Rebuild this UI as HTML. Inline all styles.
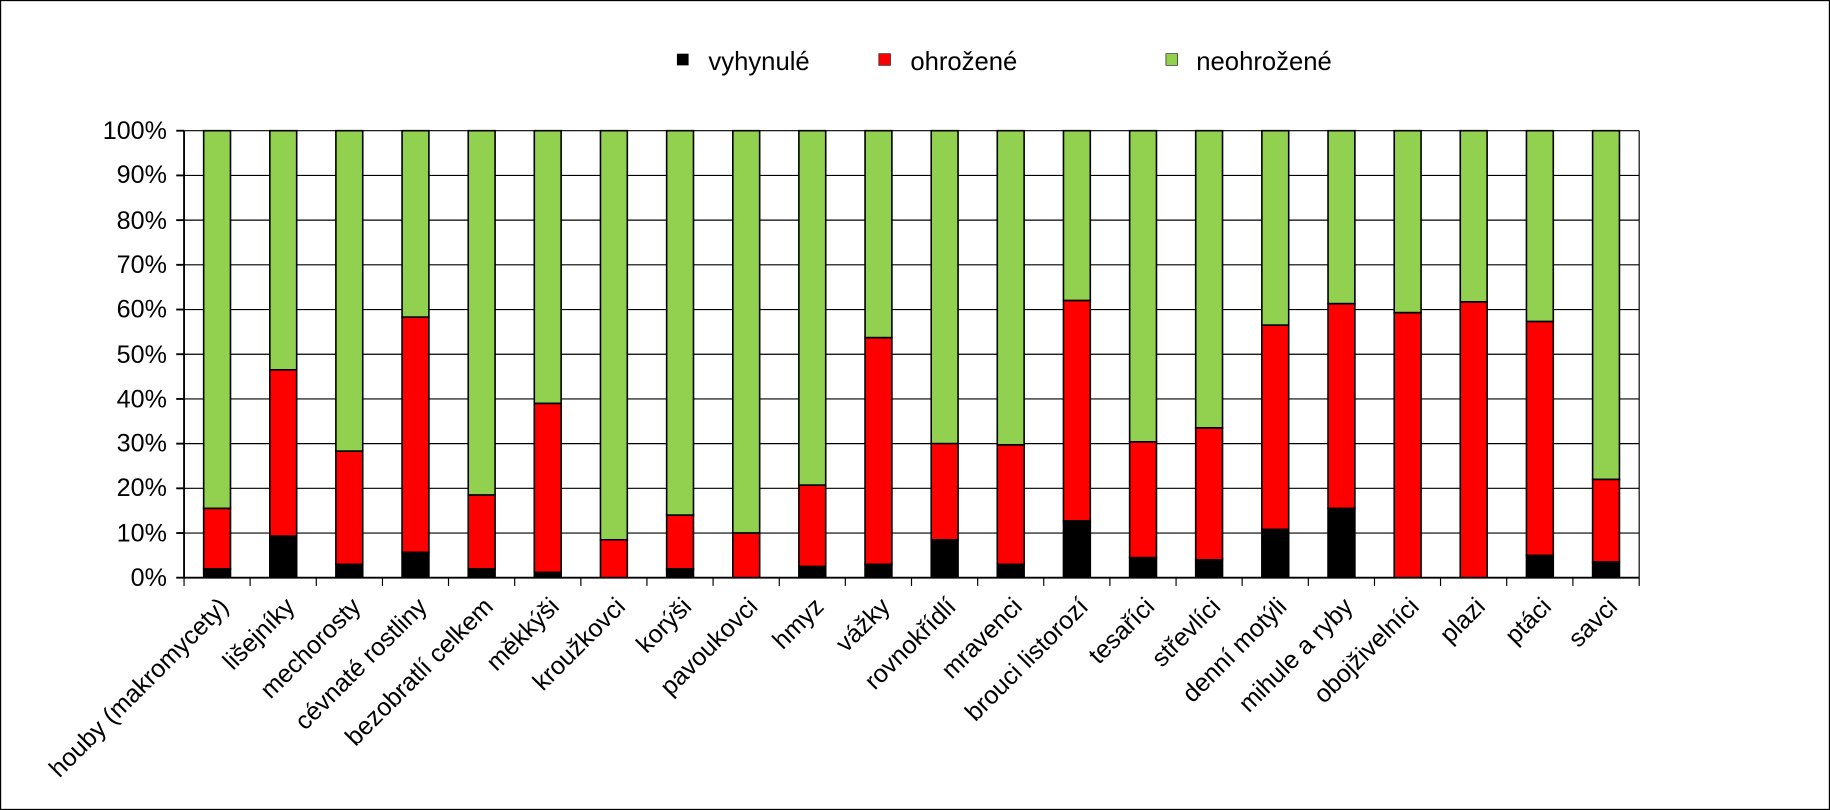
<!DOCTYPE html>
<html><head><meta charset="utf-8"><style>html,body{margin:0;padding:0;background:#fff}svg{display:block}text{font-family:"Liberation Sans",Arial,sans-serif;fill:#000}</style></head>
<body>
<svg width="1830" height="810" viewBox="0 0 1568 694" preserveAspectRatio="none" xmlns="http://www.w3.org/2000/svg">
<rect x="0.5" y="0.5" width="1567" height="693" fill="#fff" stroke="#000" stroke-width="1"/>
<rect x="580" y="46" width="10" height="10" fill="#000"/><text x="607" y="60" font-size="22">vyhynulé</text>
<rect x="753" y="46" width="10" height="10" fill="#f00" stroke="#000" stroke-width="0.5"/><text x="780" y="60" font-size="22">ohrožené</text>
<rect x="999" y="46" width="10" height="10" fill="#92d050" stroke="#000" stroke-width="0.5"/><text x="1025" y="60" font-size="22">neohrožené</text>
<g stroke="#000" stroke-width="1">
<line x1="157.7" x2="1404.5" y1="112" y2="112"/>
<line x1="157.7" x2="1404.5" y1="150.3" y2="150.3"/>
<line x1="157.7" x2="1404.5" y1="188.6" y2="188.6"/>
<line x1="157.7" x2="1404.5" y1="226.9" y2="226.9"/>
<line x1="157.7" x2="1404.5" y1="265.2" y2="265.2"/>
<line x1="157.7" x2="1404.5" y1="303.5" y2="303.5"/>
<line x1="157.7" x2="1404.5" y1="341.8" y2="341.8"/>
<line x1="157.7" x2="1404.5" y1="380.1" y2="380.1"/>
<line x1="157.7" x2="1404.5" y1="418.4" y2="418.4"/>
<line x1="157.7" x2="1404.5" y1="456.7" y2="456.7"/>
<line x1="1404.5" x2="1404.5" y1="112" y2="495"/>
</g>
<g font-size="21.5" text-anchor="end">
<text x="143" y="119">100%</text><text x="143" y="157">90%</text><text x="143" y="196">80%</text><text x="143" y="234">70%</text><text x="143" y="272">60%</text><text x="143" y="311">50%</text><text x="143" y="349">40%</text><text x="143" y="387">30%</text><text x="143" y="425">20%</text><text x="143" y="464">10%</text><text x="143" y="502">0%</text>
</g>
<g transform="translate(0,495) scale(1,-3.83)" stroke="#000" stroke-width="1.6">
<rect x="174.5" y="15.5" width="23" height="84.5" fill="#92d050" vector-effect="non-scaling-stroke"/><rect x="174.5" y="2" width="23" height="13.5" fill="#f00" vector-effect="non-scaling-stroke"/><rect x="174.5" y="0" width="23" height="2" fill="#000" vector-effect="non-scaling-stroke"/>
<rect x="231.2" y="46.5" width="23" height="53.5" fill="#92d050" vector-effect="non-scaling-stroke"/><rect x="231.2" y="9.3" width="23" height="37.2" fill="#f00" vector-effect="non-scaling-stroke"/><rect x="231.2" y="0" width="23" height="9.3" fill="#000" vector-effect="non-scaling-stroke"/>
<rect x="287.8" y="28.3" width="23" height="71.7" fill="#92d050" vector-effect="non-scaling-stroke"/><rect x="287.8" y="3" width="23" height="25.3" fill="#f00" vector-effect="non-scaling-stroke"/><rect x="287.8" y="0" width="23" height="3" fill="#000" vector-effect="non-scaling-stroke"/>
<rect x="344.5" y="58.3" width="23" height="41.7" fill="#92d050" vector-effect="non-scaling-stroke"/><rect x="344.5" y="5.7" width="23" height="52.6" fill="#f00" vector-effect="non-scaling-stroke"/><rect x="344.5" y="0" width="23" height="5.7" fill="#000" vector-effect="non-scaling-stroke"/>
<rect x="401.2" y="18.5" width="23" height="81.5" fill="#92d050" vector-effect="non-scaling-stroke"/><rect x="401.2" y="2" width="23" height="16.5" fill="#f00" vector-effect="non-scaling-stroke"/><rect x="401.2" y="0" width="23" height="2" fill="#000" vector-effect="non-scaling-stroke"/>
<rect x="457.8" y="39" width="23" height="61" fill="#92d050" vector-effect="non-scaling-stroke"/><rect x="457.8" y="1.2" width="23" height="37.8" fill="#f00" vector-effect="non-scaling-stroke"/><rect x="457.8" y="0" width="23" height="1.2" fill="#000" vector-effect="non-scaling-stroke"/>
<rect x="514.5" y="8.5" width="23" height="91.5" fill="#92d050" vector-effect="non-scaling-stroke"/><rect x="514.5" y="0" width="23" height="8.5" fill="#f00" vector-effect="non-scaling-stroke"/>
<rect x="571.2" y="14" width="23" height="86" fill="#92d050" vector-effect="non-scaling-stroke"/><rect x="571.2" y="2" width="23" height="12" fill="#f00" vector-effect="non-scaling-stroke"/><rect x="571.2" y="0" width="23" height="2" fill="#000" vector-effect="non-scaling-stroke"/>
<rect x="627.9" y="10" width="23" height="90" fill="#92d050" vector-effect="non-scaling-stroke"/><rect x="627.9" y="0" width="23" height="10" fill="#f00" vector-effect="non-scaling-stroke"/>
<rect x="684.5" y="20.7" width="23" height="79.3" fill="#92d050" vector-effect="non-scaling-stroke"/><rect x="684.5" y="2.5" width="23" height="18.2" fill="#f00" vector-effect="non-scaling-stroke"/><rect x="684.5" y="0" width="23" height="2.5" fill="#000" vector-effect="non-scaling-stroke"/>
<rect x="741.2" y="53.7" width="23" height="46.3" fill="#92d050" vector-effect="non-scaling-stroke"/><rect x="741.2" y="3" width="23" height="50.7" fill="#f00" vector-effect="non-scaling-stroke"/><rect x="741.2" y="0" width="23" height="3" fill="#000" vector-effect="non-scaling-stroke"/>
<rect x="797.9" y="30" width="23" height="70" fill="#92d050" vector-effect="non-scaling-stroke"/><rect x="797.9" y="8.5" width="23" height="21.5" fill="#f00" vector-effect="non-scaling-stroke"/><rect x="797.9" y="0" width="23" height="8.5" fill="#000" vector-effect="non-scaling-stroke"/>
<rect x="854.5" y="29.7" width="23" height="70.3" fill="#92d050" vector-effect="non-scaling-stroke"/><rect x="854.5" y="3" width="23" height="26.7" fill="#f00" vector-effect="non-scaling-stroke"/><rect x="854.5" y="0" width="23" height="3" fill="#000" vector-effect="non-scaling-stroke"/>
<rect x="911.2" y="62" width="23" height="38" fill="#92d050" vector-effect="non-scaling-stroke"/><rect x="911.2" y="12.7" width="23" height="49.3" fill="#f00" vector-effect="non-scaling-stroke"/><rect x="911.2" y="0" width="23" height="12.7" fill="#000" vector-effect="non-scaling-stroke"/>
<rect x="967.9" y="30.4" width="23" height="69.6" fill="#92d050" vector-effect="non-scaling-stroke"/><rect x="967.9" y="4.5" width="23" height="25.9" fill="#f00" vector-effect="non-scaling-stroke"/><rect x="967.9" y="0" width="23" height="4.5" fill="#000" vector-effect="non-scaling-stroke"/>
<rect x="1024.5" y="33.5" width="23" height="66.5" fill="#92d050" vector-effect="non-scaling-stroke"/><rect x="1024.5" y="4" width="23" height="29.5" fill="#f00" vector-effect="non-scaling-stroke"/><rect x="1024.5" y="0" width="23" height="4" fill="#000" vector-effect="non-scaling-stroke"/>
<rect x="1081.2" y="56.5" width="23" height="43.5" fill="#92d050" vector-effect="non-scaling-stroke"/><rect x="1081.2" y="10.8" width="23" height="45.7" fill="#f00" vector-effect="non-scaling-stroke"/><rect x="1081.2" y="0" width="23" height="10.8" fill="#000" vector-effect="non-scaling-stroke"/>
<rect x="1137.9" y="61.3" width="23" height="38.7" fill="#92d050" vector-effect="non-scaling-stroke"/><rect x="1137.9" y="15.5" width="23" height="45.8" fill="#f00" vector-effect="non-scaling-stroke"/><rect x="1137.9" y="0" width="23" height="15.5" fill="#000" vector-effect="non-scaling-stroke"/>
<rect x="1194.6" y="59.3" width="23" height="40.7" fill="#92d050" vector-effect="non-scaling-stroke"/><rect x="1194.6" y="0" width="23" height="59.3" fill="#f00" vector-effect="non-scaling-stroke"/>
<rect x="1251.2" y="61.7" width="23" height="38.3" fill="#92d050" vector-effect="non-scaling-stroke"/><rect x="1251.2" y="0" width="23" height="61.7" fill="#f00" vector-effect="non-scaling-stroke"/>
<rect x="1307.9" y="57.3" width="23" height="42.7" fill="#92d050" vector-effect="non-scaling-stroke"/><rect x="1307.9" y="5" width="23" height="52.3" fill="#f00" vector-effect="non-scaling-stroke"/><rect x="1307.9" y="0" width="23" height="5" fill="#000" vector-effect="non-scaling-stroke"/>
<rect x="1364.6" y="22" width="23" height="78" fill="#92d050" vector-effect="non-scaling-stroke"/><rect x="1364.6" y="3.5" width="23" height="18.5" fill="#f00" vector-effect="non-scaling-stroke"/><rect x="1364.6" y="0" width="23" height="3.5" fill="#000" vector-effect="non-scaling-stroke"/>
</g>
<g stroke="#000" stroke-width="1.6">
<line x1="157.7" x2="157.7" y1="112" y2="495"/>
<line x1="151" x2="1404.5" y1="495" y2="495"/>
<line x1="151" x2="157.7" y1="112" y2="112"/><line x1="151" x2="157.7" y1="150.3" y2="150.3"/><line x1="151" x2="157.7" y1="188.6" y2="188.6"/><line x1="151" x2="157.7" y1="226.9" y2="226.9"/><line x1="151" x2="157.7" y1="265.2" y2="265.2"/><line x1="151" x2="157.7" y1="303.5" y2="303.5"/><line x1="151" x2="157.7" y1="341.8" y2="341.8"/><line x1="151" x2="157.7" y1="380.1" y2="380.1"/><line x1="151" x2="157.7" y1="418.4" y2="418.4"/><line x1="151" x2="157.7" y1="456.7" y2="456.7"/>
</g>
<g stroke="#000" stroke-width="1">
<line x1="157.7" x2="157.7" y1="495" y2="502"/><line x1="214.3" x2="214.3" y1="495" y2="502"/><line x1="271" x2="271" y1="495" y2="502"/><line x1="327.7" x2="327.7" y1="495" y2="502"/><line x1="384.3" x2="384.3" y1="495" y2="502"/><line x1="441" x2="441" y1="495" y2="502"/><line x1="497.7" x2="497.7" y1="495" y2="502"/><line x1="554.3" x2="554.3" y1="495" y2="502"/><line x1="611" x2="611" y1="495" y2="502"/><line x1="667.7" x2="667.7" y1="495" y2="502"/><line x1="724.3" x2="724.3" y1="495" y2="502"/><line x1="781" x2="781" y1="495" y2="502"/><line x1="837.7" x2="837.7" y1="495" y2="502"/><line x1="894.3" x2="894.3" y1="495" y2="502"/><line x1="951" x2="951" y1="495" y2="502"/><line x1="1007.7" x2="1007.7" y1="495" y2="502"/><line x1="1064.3" x2="1064.3" y1="495" y2="502"/><line x1="1121" x2="1121" y1="495" y2="502"/><line x1="1177.7" x2="1177.7" y1="495" y2="502"/><line x1="1234.3" x2="1234.3" y1="495" y2="502"/><line x1="1291" x2="1291" y1="495" y2="502"/><line x1="1347.7" x2="1347.7" y1="495" y2="502"/><line x1="1404.5" x2="1404.5" y1="495" y2="502"/>
</g>
<g font-size="21.5" text-anchor="end">
<text transform="translate(197,521) rotate(-45)">houby (makromycety)</text>
<text transform="translate(253.7,521) rotate(-45)">lišejníky</text>
<text transform="translate(310.3,521) rotate(-45)">mechorosty</text>
<text transform="translate(367,521) rotate(-45)">cévnaté rostliny</text>
<text transform="translate(423.7,521) rotate(-45)">bezobratlí celkem</text>
<text transform="translate(480.3,521) rotate(-45)">měkkýši</text>
<text transform="translate(537,521) rotate(-45)">kroužkovci</text>
<text transform="translate(593.7,521) rotate(-45)">korýši</text>
<text transform="translate(650.4,521) rotate(-45)">pavoukovci</text>
<text transform="translate(707,521) rotate(-45)">hmyz</text>
<text transform="translate(763.7,521) rotate(-45)">vážky</text>
<text transform="translate(820.4,521) rotate(-45)">rovnokřídlí</text>
<text transform="translate(877,521) rotate(-45)">mravenci</text>
<text transform="translate(933.7,521) rotate(-45)">brouci listorozí</text>
<text transform="translate(990.4,521) rotate(-45)">tesaříci</text>
<text transform="translate(1047,521) rotate(-45)">střevlíci</text>
<text transform="translate(1103.7,521) rotate(-45)">denní motýli</text>
<text transform="translate(1160.4,521) rotate(-45)">mihule a ryby</text>
<text transform="translate(1217.1,521) rotate(-45)">obojživelníci</text>
<text transform="translate(1273.7,521) rotate(-45)">plazi</text>
<text transform="translate(1330.4,521) rotate(-45)">ptáci</text>
<text transform="translate(1387.1,521) rotate(-45)">savci</text>
</g>
</svg>
</body></html>
